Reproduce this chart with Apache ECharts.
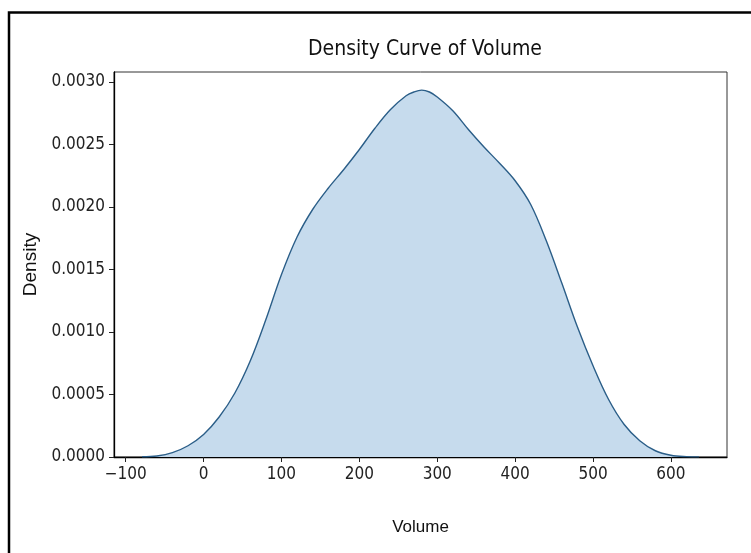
<!DOCTYPE html>
<html>
<head>
<meta charset="utf-8">
<script src="https://cdn.jsdelivr.net/npm/echarts@6/dist/echarts.min.js"></script>
<style>
html,body{margin:0;padding:0;background:#fff;}
#chart{width:751px;height:553px;}
</style>
</head>
<body>
<div id="chart"></div>
<script>
// Data
var volumeX = [-79, -60, -40, -20, 0, 20, 40, 60, 80, 100, 120, 140, 160, 180, 200, 220, 240, 260, 270, 280, 290, 300, 320, 340, 360, 380, 400, 420, 440, 460, 480, 500, 520, 540, 560, 580, 600, 620, 636];
var densityY = [0.000002, 0.000008, 0.000035, 0.00009, 0.00018, 0.00032, 0.00051, 0.00077, 0.00110, 0.00146, 0.00176, 0.00198, 0.00215, 0.00230, 0.00246, 0.00263, 0.00278, 0.00289, 0.00292, 0.002935, 0.00292, 0.00288, 0.00277, 0.00262, 0.00248, 0.00235, 0.00221, 0.00202, 0.00173, 0.00139, 0.00104, 0.00073, 0.00046, 0.00026, 0.00013, 0.00005, 0.000014, 0.000003, 0.000001];
var xTicks = [-100, 0, 100, 200, 300, 400, 500, 600];
var yTicks = [0, 0.0005, 0.0010, 0.0015, 0.0020, 0.0025, 0.0030];
var titleText = 'Density Curve of Volume';
var xName = 'Volume';
var yName = 'Density';

var FONT = "'DejaVu Sans Condensed', 'Liberation Sans', sans-serif";
var chart = echarts.init(document.getElementById('chart'), null, {renderer: 'canvas'});
var pts = volumeX.map(function (x, i) { return [x, densityY[i]]; });
chart.setOption({
  animation: false,
  backgroundColor: '#fff',
  title: {
    text: titleText, left: 420, textAlign: 'center', top: 34,
    textStyle: {fontFamily: FONT, fontSize: 21, fontWeight: 'normal', color: '#111'}
  },
  grid: {left: 114, right: 24, top: 72, bottom: 96, show: true, borderColor: '#333', borderWidth: 1, backgroundColor: 'transparent'},
  xAxis: {
    type: 'value', min: -115, max: 672,
    name: xName, nameLocation: 'middle', nameGap: 62,
    nameTextStyle: {fontFamily: "'Liberation Sans', sans-serif", fontSize: 17, color: '#111'},
    splitLine: {show: false},
    axisLine: {show: true, onZero: false, lineStyle: {color: '#000', width: 1.3}},
    axisTick: {show: true, length: 5, customValues: xTicks, lineStyle: {color: '#222'}},
    axisLabel: {customValues: xTicks, fontFamily: FONT, fontSize: 17, color: '#222', margin: 9,
      formatter: function (v) { return v < 0 ? '\u2212' + Math.abs(v) : String(v); }}
  },
  yAxis: {
    type: 'value', min: 0, max: 0.00308,
    name: yName, nameLocation: 'middle', nameGap: 74, nameRotate: 90,
    nameTextStyle: {fontFamily: "'Liberation Sans', sans-serif", fontSize: 19, color: '#111'},
    splitLine: {show: false},
    axisLine: {show: true, onZero: false, lineStyle: {color: '#000', width: 1.3}},
    axisTick: {show: true, length: 5, customValues: yTicks, lineStyle: {color: '#222'}},
    axisLabel: {customValues: yTicks, fontFamily: FONT, fontSize: 17, color: '#222', margin: 9,
      formatter: function (v) { return v.toFixed(4); }}
  },
  graphic: [{
    type: 'polyline', silent: true,
    shape: {points: [[9, 553], [9, 12.5], [751, 12.5]]},
    style: {stroke: '#000', lineWidth: 2.5, fill: null}
  }],
  series: [{
    type: 'line', data: pts, smooth: 0.35, showSymbol: false, symbol: 'none',
    lineStyle: {color: '#2b5e88', width: 1.4},
    areaStyle: {color: '#c6dbed', opacity: 1}
  }]
});
</script>
</body>
</html>
